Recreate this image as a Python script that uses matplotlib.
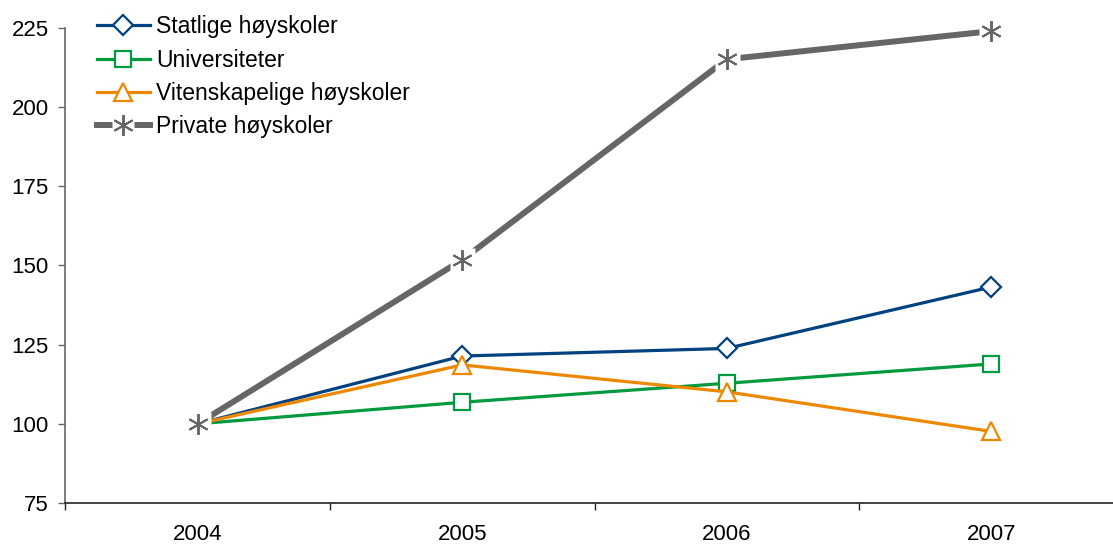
import matplotlib
matplotlib.use("Agg")
import matplotlib.pyplot as plt
from matplotlib.ticker import FixedLocator
from matplotlib.lines import Line2D

plt.rcParams['font.family'] = ['Liberation Sans', 'DejaVu Sans']

# ---------------- DATA ----------------
years = ['2004', '2005', '2006', '2007']
statlige = [100, 121.4, 123.8, 143.2]
universiteter = [100, 106.8, 112.8, 118.9]
vitenskapelige = [100, 118.6, 110.1, 97.6]
private = [100, 151.8, 215.1, 224.0]

labels = ['Statlige høyskoler', 'Universiteter',
          'Vitenskapelige høyskoler', 'Private høyskoler']

GREY = '#666666'
ASTER = (6, 2, 0)

# ---------------- PLOT ----------------
fig = plt.figure(figsize=(11.13, 5.45), dpi=100)
ax = fig.add_axes([0.0588, 0.0771, 0.9507, 0.8716])

x = list(range(len(years)))

h1, = ax.plot(x, statlige, color='#00427F', lw=2.3, marker='D', ms=10,
              mfc='white', mec='#00427F', mew=1.6, clip_on=False, zorder=3)
h2, = ax.plot(x, universiteter, color='#009A3E', lw=2.3, marker='s', ms=11,
              mfc='white', mec='#009A3E', mew=1.6, clip_on=False, zorder=3)
h3, = ax.plot(x, vitenskapelige, color='#EE8700', lw=2.3, marker='^', ms=13,
              mfc='white', mec='#EE8700', mew=1.6, clip_on=False, zorder=3)
ax.plot(x, private, color=GREY, lw=4.3, clip_on=False, zorder=3)
# white box behind the asterisk (breaks the lines like Excel does)
ax.plot(x, private, ls='none', marker='s', ms=18, mfc='white', mec='none',
        clip_on=False, zorder=4)
ax.plot(x, private, ls='none', marker=ASTER, ms=15, mec=GREY,
        mew=1.4, clip_on=False, zorder=5)

# legend handle for private series: thick line broken by the asterisk
leg_line = Line2D([], [], color=GREY, lw=4.3)
leg_box = Line2D([], [], ls='none', marker='s', ms=16, mfc='white', mec='none')
leg_star = Line2D([], [], ls='none', marker=ASTER, ms=15, mec=GREY, mew=1.4)

ax.set_xlim(-0.5, 3.5)
ax.set_ylim(75, 225)
ax.set_yticks([75, 100, 125, 150, 175, 200, 225])

# category axis: ticks between categories, labels centered
ax.xaxis.set_major_locator(FixedLocator([-0.5, 0.5, 1.5, 2.5, 3.5]))
ax.xaxis.set_minor_locator(FixedLocator(x))
ax.set_xticklabels([])
ax.set_xticklabels(years, minor=True)
ax.tick_params(axis='x', which='major', direction='out', length=5,
               width=1, color='#222222')
ax.tick_params(axis='x', which='minor', length=0, pad=15, labelsize=16)
ax.tick_params(axis='y', direction='out', length=5, width=1,
               color=GREY, labelsize=16, pad=7)

for s in ['top', 'right']:
    ax.spines[s].set_visible(False)
ax.spines['left'].set_color(GREY)
ax.spines['bottom'].set_color('#222222')
ax.spines['left'].set_linewidth(1.2)
ax.spines['bottom'].set_linewidth(1.2)

leg = fig.legend([h1, h2, h3, (leg_line, leg_box, leg_star)], labels,
                 loc='upper left',
                 bbox_to_anchor=(0.087, 0.972), frameon=False, fontsize=16.5,
                 handlelength=2.3, handletextpad=0.3, labelspacing=0.45,
                 borderpad=0, borderaxespad=0)

plt.savefig('out.png', dpi=100)
